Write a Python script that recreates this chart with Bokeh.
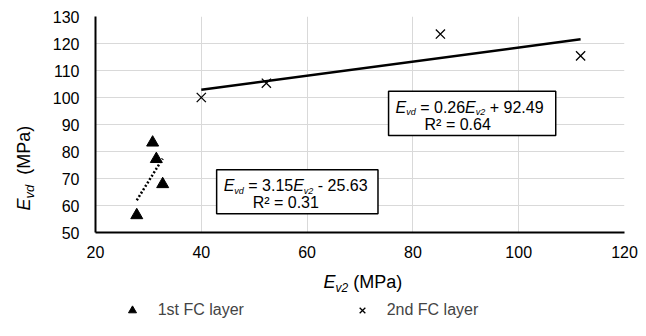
import numpy as np
from bokeh.plotting import figure
from bokeh.layouts import row, column
from bokeh.models import Range1d, FixedTicker, Label, BoxAnnotation, Legend, LegendItem
from bokeh.embed import file_html
from bokeh.resources import INLINE

# ---- data ----
fc1_ev2 = [30.8, 31.5, 32.7, 27.8]
fc1_evd = [83.3, 77.2, 67.9, 56.4]
fc2_ev2 = [40.0, 52.3, 85.2, 111.7]
fc2_evd = [100.0, 105.3, 123.5, 115.4]
fit1 = [3.15, -25.63, 0.31]   # slope, intercept, R^2
fit2 = [0.26, 92.49, 0.64]
x_ticks = [20, 40, 60, 80, 100, 120]
y_ticks = [50, 60, 70, 80, 90, 100, 110, 120, 130]
series_names = ["1st FC layer", "2nd FC layer"]

FONT = "Liberation Sans"
ARIAL = {' ': 278, '(': 333, ')': 333, '+': 584, '-': 333, '.': 278, '=': 584,
         'E': 667, 'M': 833, 'P': 667, 'R': 722, 'a': 556, 'd': 556, 'v': 500,
         '\u00b2': 333}

LEFT_W, MAIN_W, MAIN_H, TOTAL_H = 40, 598, 266, 320
B_LEFT, B_RIGHT = 55, 14          # main frame borders inside the right column
FRAME_L = LEFT_W + B_LEFT         # page x of the frame's left edge
FRAME_R = LEFT_W + MAIN_W - B_RIGHT
BASE_FIX = 0.33                   # baseline correction (fraction of font size)


def tw(s, size):
    return sum(ARIAL.get(c, 556) for c in s) * size / 1000.0


def rich(fig, x, y, dx, dy, pieces, angle=0.0):
    cur = 0.0
    for text, size, italic, shift in pieces:
        lead = len(text) - len(text.lstrip(' '))
        s = text.strip(' ')
        off = cur + tw(' ' * lead, size)
        fix = BASE_FIX * size
        if angle == 0:
            xo, yo = dx + off, dy - shift + fix
        else:
            xo, yo = dx + shift - fix, dy + off
        fig.add_layout(Label(x=x, y=y, x_offset=xo, y_offset=yo, text=s,
                             angle=angle, text_font=FONT,
                             text_font_size=f"{size}px",
                             text_font_style="italic" if italic else "normal",
                             text_baseline="alphabetic", text_align="left",
                             text_color="black"))
        cur += tw(text, size)


def strip_fig(width, height, xr, yr, **kw):
    f = figure(width=width, height=height, output_backend="svg",
               toolbar_location=None, x_range=xr, y_range=yr,
               x_axis_type=None, y_axis_type=None, **kw)
    f.outline_line_color = None
    f.grid.visible = False
    f.background_fill_color = "white"
    f.border_fill_color = "white"
    return f


# ---------------- main chart ----------------
p = figure(width=MAIN_W, height=MAIN_H, output_backend="svg",
           toolbar_location=None,
           x_range=Range1d(20, 120), y_range=Range1d(50, 130),
           min_border_left=B_LEFT, min_border_right=B_RIGHT, min_border_top=16,
           min_border_bottom=34)
p.outline_line_color = None
p.background_fill_color = "white"
p.border_fill_color = "white"

p.xaxis.ticker = FixedTicker(ticks=x_ticks)
p.yaxis.ticker = FixedTicker(ticks=y_ticks)
for ax in (p.xaxis, p.yaxis):
    ax.axis_line_color = "black"
    ax.axis_line_width = 2
    ax.major_tick_line_color = None
    ax.minor_tick_line_color = None
    ax.major_tick_in = 0
    ax.major_tick_out = 0
    ax.minor_tick_in = 0
    ax.minor_tick_out = 0
    ax.major_label_text_font = FONT
    ax.major_label_text_font_size = "16px"
    ax.major_label_text_color = "#000000"
p.yaxis.major_label_standoff = 16
p.xaxis.major_label_standoff = 13
p.grid.grid_line_color = "#d9d9d9"
p.grid.grid_line_width = 1

x1 = np.array([min(fc1_ev2), max(fc1_ev2)])
x2 = np.array([min(fc2_ev2), max(fc2_ev2)])
p.line(x1, fit1[0] * x1 + fit1[1], line_color="black", line_width=2.5,
       line_dash="2 2")
p.line(x2, fit2[0] * x2 + fit2[1], line_color="black", line_width=2.5)

TRI = dict(marker="triangle", size=12, fill_color="black", line_color="black")
CRS = dict(marker="x", size=13, line_color="black", line_width=1.3)
p.scatter(fc1_ev2, fc1_evd, **TRI)
p.scatter(fc2_ev2, fc2_evd, **CRS)


def fmt_eq(fit):
    sign = "+" if fit[1] >= 0 else "-"
    return [("E", 16, True, 0), ("vd", 9, True, 3),
            (f" = {fit[0]:.2f}", 16, False, 0), ("E", 16, True, 0),
            ("v2", 9, True, 3), (f" {sign} {abs(fit[1]):.2f}", 16, False, 0)]


boxes = [(fit2, (75.4, 107.0, 85.9, 102.3)), (fit1, (42.9, 73.4, 56.9, 73.2))]
for fit, (bl, br, bb, bt) in boxes:
    p.add_layout(BoxAnnotation(left=bl, right=br, bottom=bb, top=bt,
                               fill_color="white", fill_alpha=1.0,
                               line_color="black", line_alpha=1.0,
                               line_width=1.5, level="annotation"))
    rich(p, bl, bt, 7, -21, fmt_eq(fit))
    rich(p, bl, bt, 36, -38, [(f"R\u00b2 = {fit[2]:.2f}", 16, False, 0)])

# ---------------- y-axis title strip (page pixel coordinates) ----------------
left = strip_fig(LEFT_W, TOTAL_H, Range1d(0, LEFT_W), Range1d(TOTAL_H, 0),
                 min_border=0)
rich(left, 29.5, 210, 0, 0, [("E", 18, True, 0), ("vd", 13, True, 4),
                             ("  (MPa)", 18, False, 0)], angle=np.pi / 2)

# ---------------- x-axis title + legend strip (page pixel coordinates) -------
bot = strip_fig(MAIN_W, TOTAL_H - MAIN_H, Range1d(FRAME_L, FRAME_R),
                Range1d(TOTAL_H, MAIN_H), min_border_left=B_LEFT,
                min_border_right=B_RIGHT, min_border_top=0, min_border_bottom=0)
rich(bot, 323, 287, 0, 0, [("E", 18, True, 0), ("v2", 12, True, 4),
                           (" (MPa)", 18, False, 0)])
# legend proxies share the series data (they fall outside this strip's ranges)
b1 = bot.scatter(fc1_ev2, fc1_evd, **TRI)
b2 = bot.scatter(fc2_ev2, fc2_evd, **CRS)
for name, r, cx, so in ((series_names[0], b1, 131.7, 14),
                        (series_names[1], b2, 361.7, 13)):
    bot.add_layout(Legend(items=[LegendItem(label=name, renderers=[r])],
                          location=(cx - FRAME_L - 12, 0), padding=0, margin=0,
                          glyph_width=24, glyph_height=20, label_height=20,
                          label_standoff=so, label_text_font=FONT,
                          label_text_font_size="16px",
                          border_line_color=None, background_fill_alpha=0))

layout = row(left, column(p, bot))
open("out.html", "w").write(file_html(layout, INLINE))
